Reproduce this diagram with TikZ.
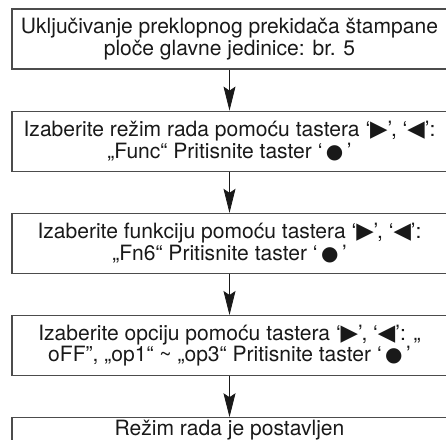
\documentclass[tikz,border=0pt]{standalone}
\usepackage{fontspec}
\setmainfont{TeX Gyre Heros}
\newfontfamily\symfont{DejaVu Sans}
\usetikzlibrary{arrows.meta, positioning}

% tasteri
\newcommand{\desno}{{\symfont\fontsize{17}{14}\selectfont ▶}}
\newcommand{\levo}{{\symfont\fontsize{17}{14}\selectfont ◀}}
\newcommand{\tacka}{{\symfont\fontsize{15}{14}\selectfont ●}}

\begin{document}
\begin{tikzpicture}[
    node distance=30.75pt,
    korak/.style={rectangle, draw=black!70, line width=0.9pt, minimum width=326.25pt, minimum height=45pt, align=center, inner sep=0pt, text=black!90, font=\fontsize{15.8}{16.3}\selectfont},
    kraj/.style={korak, minimum height=19pt},
    arrow/.style={-{Stealth[length=18pt, width=9pt, inset=3pt]}, line width=0.6pt, black!90}
]
\useasboundingbox (0,0) rectangle (334.5pt,-329.25pt);

% Koraci
\node[korak] (ukljuci) at (172.125pt,-29.25pt) {Uključivanje preklopnog prekidača štampane\\ploče glavne jedinice: br. 5};
\node[korak, below=of ukljuci] (rezim) {Izaberite režim rada pomoću tastera ‘\desno’, ‘\levo’:\\„Func“ Pritisnite taster ‘\,\tacka\,’};
\node[korak, below=of rezim] (funkcija) {Izaberite funkciju pomoću tastera ‘\desno’, ‘\levo’:\\„Fn6“ Pritisnite taster ‘\,\tacka\,’};
\node[korak, below=of funkcija] (opcija) {Izaberite opciju pomoću tastera ‘\desno’, ‘\levo’: „\\oFF”, „op1“ \textasciitilde{} „op3“ Pritisnite taster ‘\,\tacka\,’};
\node[kraj, below=of opcija] (postavljen) {Režim rada je postavljen};

% Strelice
\draw[arrow] (ukljuci.south) -- (rezim.north);
\draw[arrow] (rezim.south) -- (funkcija.north);
\draw[arrow] (funkcija.south) -- (opcija.north);
\draw[arrow] (opcija.south) -- (postavljen.north);

\end{tikzpicture}
\end{document}
